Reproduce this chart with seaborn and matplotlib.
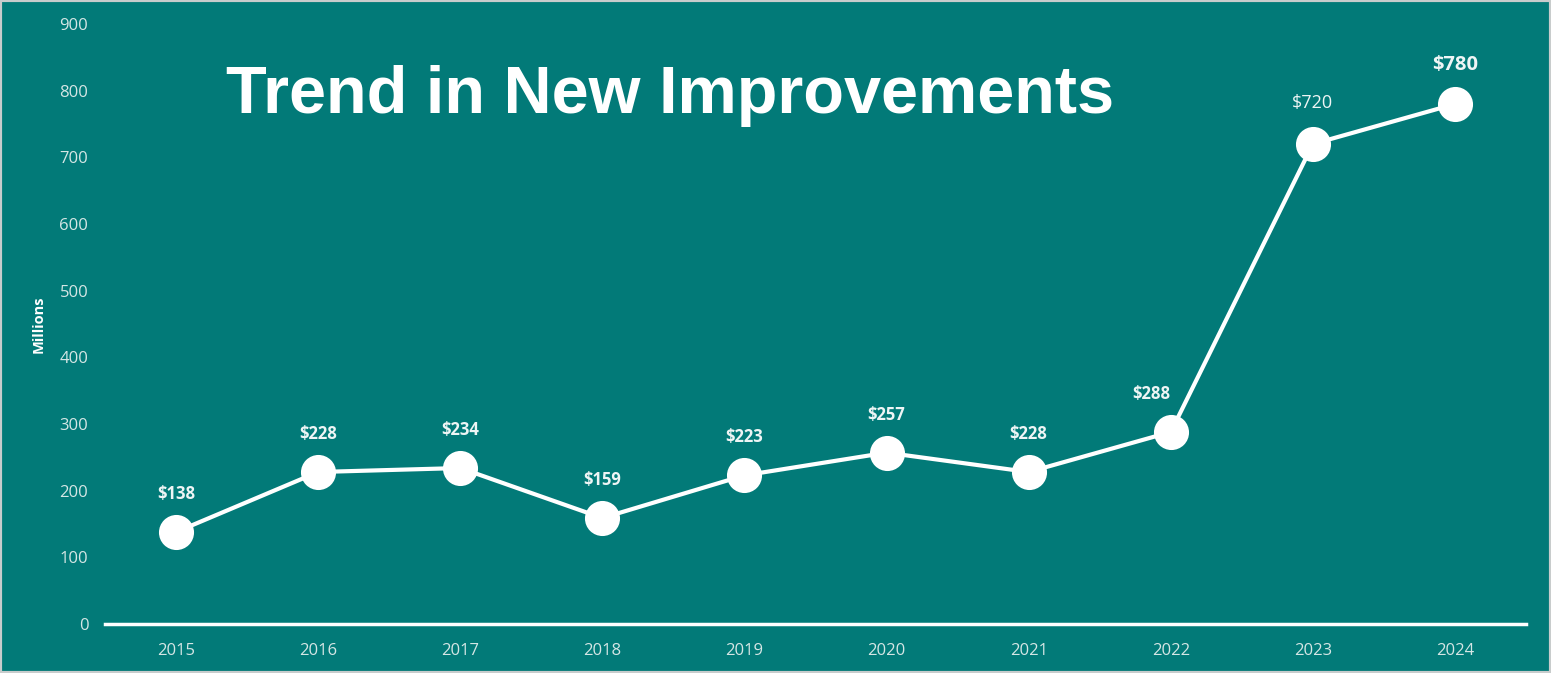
import matplotlib
matplotlib.use("Agg")
import matplotlib.pyplot as plt
from matplotlib.patches import Rectangle
import seaborn as sns
import pandas as pd

years = ["2015", "2016", "2017", "2018", "2019", "2020", "2021", "2022", "2023", "2024"]
values = [138, 228, 234, 159, 223, 257, 228, 288, 720, 780]
labels = ["$138", "$228", "$234", "$159", "$223", "$257", "$228", "$288", "$720", "$780"]
yticks = [0, 100, 200, 300, 400, 500, 600, 700, 800, 900]

TEAL = "#027a78"
TICK = "#d5e6e5"

sns.set_theme(style="ticks")
plt.rcParams["font.family"] = ["Open Sans", "DejaVu Sans"]

fig = plt.figure(figsize=(15.51, 6.73), dpi=100, facecolor=TEAL)
ax = fig.add_axes([0.0677, 0.0728, 0.9162, 0.8915])
ax.set_facecolor(TEAL)

df = pd.DataFrame({"year": years, "value": values})
sns.pointplot(data=df, x="year", y="value", color="white", markers="o",
              markersize=23, linewidth=3, ax=ax, zorder=3)
for coll in ax.collections:
    coll.set_zorder(4)

ax.set_xlim(-0.5, 9.5)
ax.set_ylim(0, 900)
ax.set_yticks(yticks)
ax.set_yticklabels([str(v) for v in yticks])

for s in ["top", "right", "left"]:
    ax.spines[s].set_visible(False)
ax.spines["bottom"].set_color("white")
ax.spines["bottom"].set_linewidth(2.5)
ax.spines["bottom"].set_zorder(2)

ax.tick_params(axis="both", length=0, colors=TICK, labelsize=12)
ax.tick_params(axis="x", pad=14)
ax.tick_params(axis="y", pad=12)
ax.set_xlabel("")
ax.set_ylabel("Millions", color="white", fontsize=10.5, fontweight="bold", labelpad=10)

# value labels above each point
for i, (v, lab) in enumerate(zip(values, labels)):
    if i == 8:
        ax.annotate(lab, (i, v), xytext=(0, 23), textcoords="offset points",
                    ha="center", va="bottom", color="#eef5f5", fontsize=13)
    elif i == 9:
        ax.annotate(lab, (i, v), xytext=(0, 21), textcoords="offset points",
                    ha="center", va="bottom", color="#eef5f5", fontsize=14.5,
                    fontweight="bold")
    elif i == 7:
        ax.annotate(lab, (i, v), xytext=(-14, 21), textcoords="offset points",
                    ha="center", va="bottom", color="#eef5f5", fontsize=12,
                    fontweight="bold")
    else:
        ax.annotate(lab, (i, v), xytext=(0, 21), textcoords="offset points",
                    ha="center", va="bottom", color="#eef5f5", fontsize=12,
                    fontweight="bold")

fig.text(0.432, 0.858, "Trend in New Improvements", ha="center", va="center",
         color="white", fontsize=48, fontweight="bold",
         family=["Liberation Sans", "DejaVu Sans"])

fig.patches.append(Rectangle((0, 0), 1, 1, transform=fig.transFigure, fill=False,
                             edgecolor="#c8cccc", linewidth=3, zorder=10))

fig.savefig("out.png", dpi=100, facecolor=TEAL)
